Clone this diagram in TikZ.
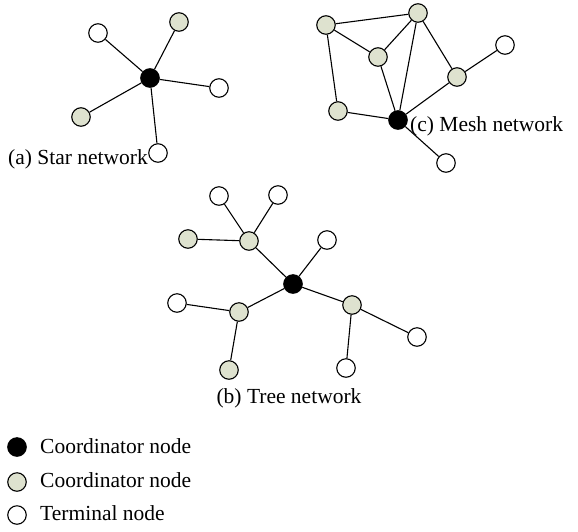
\documentclass[tikz,border=0pt]{standalone}
\usepackage{fontspec}
\setmainfont{Liberation Serif}
\definecolor{coordgray}{RGB}{222,226,207}
\tikzset{
  nd/.style={circle,draw=black,line width=1.1pt,minimum size=18.5pt,inner sep=0pt},
  pan/.style={nd,fill=black},
  crd/.style={nd,fill=coordgray},
  term/.style={nd,fill=white},
  edge/.style={line width=1.1pt},
  lbl/.style={font=\fontsize{21.5}{24}\selectfont,inner sep=0pt}
}
\begin{document}
\begin{tikzpicture}[x=1pt,y=-1pt]
\useasboundingbox (0,0) rectangle (578,531);
% (a) Star
\node[pan] (s0) at (150,78) {};
\node[term] (s1) at (98,33) {};
\node[crd] (s2) at (179,22) {};
\node[term] (s3) at (219,88) {};
\node[crd] (s4) at (81,117) {};
\node[term] (s5) at (158,153) {};
\foreach \n in {s1,s2,s3,s4,s5} \draw[edge] (s0) -- (\n);
\node[lbl,anchor=base east] (la) at (148,164) {(a) Star network};
% (c) Mesh
\node[crd] (mA) at (326,25) {};
\node[crd] (mB) at (418,13) {};
\node[crd] (mC) at (378,57) {};
\node[crd] (mD) at (457,77) {};
\node[term] (mE) at (505,45) {};
\node[crd] (mF) at (338,111) {};
\node[pan] (mG) at (398,120) {};
\node[term] (mH) at (446,163) {};
\draw[edge] (mA) -- (mB);
\draw[edge] (mA) -- (mC);
\draw[edge] (mA) -- (mF);
\draw[edge] (mC) -- (mB);
\draw[edge] (mB) -- (mG);
\draw[edge] (mB) -- (mD);
\draw[edge] (mC) -- (mG);
\draw[edge] (mF) -- (mG);
\draw[edge] (mG) -- (mD);
\draw[edge] (mD) -- (mE);
\draw[edge] (mG) -- (mH);
\node[lbl,anchor=base west] (lc) at (410,131) {(c) Mesh network};
% (b) Tree
\node[pan] (t0) at (293,284) {};
\node[crd] (t1) at (249,241) {};
\node[term] (t11) at (219,196) {};
\node[term] (t12) at (278,195) {};
\node[crd] (t13) at (188,239) {};
\node[term] (t2) at (327,240) {};
\node[crd] (t3) at (239,312) {};
\node[term] (t31) at (177,303) {};
\node[crd] (t32) at (229,370) {};
\node[crd] (t4) at (352,305) {};
\node[term] (t41) at (417,337) {};
\node[term] (t42) at (346,368) {};
\draw[edge] (t0) -- (t1);
\draw[edge] (t0) -- (t2);
\draw[edge] (t0) -- (t3);
\draw[edge] (t0) -- (t4);
\draw[edge] (t1) -- (t11);
\draw[edge] (t1) -- (t12);
\draw[edge] (t1) -- (t13);
\draw[edge] (t3) -- (t31);
\draw[edge] (t3) -- (t32);
\draw[edge] (t4) -- (t41);
\draw[edge] (t4) -- (t42);
\node[lbl,anchor=base] (lb) at (289,403) {(b) Tree network};
% Legend
\node[pan] (g1) at (17,447) {};
\node[crd] (g2) at (17,482) {};
\node[term] (g3) at (17,515) {};
\node[lbl,anchor=base west] (g1t) at (40,453) {Coordinator node};
\node[lbl,anchor=base west] (g2t) at (40,487) {Coordinator node};
\node[lbl,anchor=base west] (g3t) at (40,520) {Terminal node};
\end{tikzpicture}
\end{document}
